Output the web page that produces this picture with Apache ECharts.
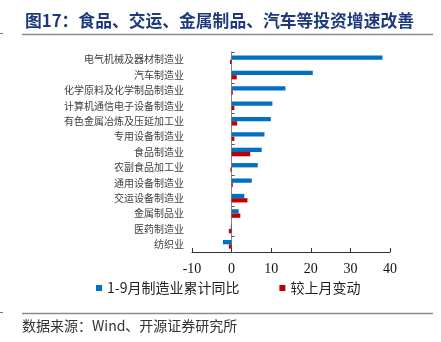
<!DOCTYPE html>
<html>
<head>
<meta charset="utf-8">
<script src="https://cdn.jsdelivr.net/npm/echarts@6/dist/echarts.min.js"></script>
<style>
  html, body { margin: 0; padding: 0; background: #fff; }
  #chart { width: 441px; height: 342px; }
</style>
</head>
<body>
<div id="chart"></div>
<script>
// Industries, top to bottom
const industries = [
  '电气机械及器材制造业',
  '汽车制造业',
  '化学原料及化学制品制造业',
  '计算机通信电子设备制造业',
  '有色金属冶炼及压延加工业',
  '专用设备制造业',
  '食品制造业',
  '农副食品加工业',
  '通用设备制造业',
  '交运设备制造业',
  '金属制品业',
  '医药制造业',
  '纺织业'
];
// 1-9月制造业累计同比 (%)
const ytdGrowth = [38.1, 20.5, 13.6, 10.3, 9.9, 8.3, 7.6, 6.6, 5.1, 3.2, 1.8, -0.2, -2.2];
// 较上月变动 (pct)
const changeVsLastMonth = [-0.4, 1.3, 0.3, 0.7, 1.4, 0.7, 4.7, -0.3, 0.3, 4.0, 2.2, -0.7, -0.7];

const seriesNames = ['1-9月制造业累计同比', '较上月变动'];
const titleText = '图17：食品、交运、金属制品、汽车等投资增速改善';
const sourceText = '数据来源：Wind、开源证券研究所';

const cjk = '"Noto Sans CJK SC", "Noto Sans", sans-serif';
const serif = '"Liberation Serif", "DejaVu Serif", serif';

const chart = echarts.init(document.getElementById('chart'), null, { renderer: 'canvas' });

chart.setOption({
  animation: false,
  backgroundColor: '#ffffff',
  title: {
    text: titleText,
    left: 20,
    top: 7,
    textStyle: { fontFamily: cjk, fontSize: 16.8, fontWeight: 'bold', color: '#1F3A7A' }
  },
  graphic: [
    { type: 'line', shape: { x1: 22, y1: 34.5, x2: 433, y2: 34.5 }, style: { stroke: '#8c8c8c', lineWidth: 1.5 } },
    { type: 'line', shape: { x1: 22, y1: 313.5, x2: 433, y2: 313.5 }, style: { stroke: '#8c8c8c', lineWidth: 1.5 } },
    { type: 'line', shape: { x1: 0, y1: 33.5, x2: 3, y2: 33.5 }, style: { stroke: '#777', lineWidth: 1 } },
    { type: 'line', shape: { x1: 0, y1: 312.5, x2: 3, y2: 312.5 }, style: { stroke: '#777', lineWidth: 1 } },
    {
      type: 'text', left: 22, top: 319,
      style: { text: sourceText, fontFamily: cjk, fontSize: 14, fill: '#333' }
    }
  ],
  legend: {
    data: seriesNames,
    left: 91,
    top: 276,
    itemWidth: 6,
    itemHeight: 6,
    itemGap: 40,
    icon: 'rect',
    textStyle: { fontFamily: cjk, fontSize: 14, color: '#222' }
  },
  grid: { left: 192, right: 51, top: 52, bottom: 90, containLabel: false },
  xAxis: {
    type: 'value',
    min: -10,
    max: 40,
    interval: 10,
    splitLine: { show: false },
    axisLine: { show: true, onZero: false, lineStyle: { color: '#333', width: 1 } },
    axisTick: { show: true, inside: true, length: 4, lineStyle: { color: '#333' } },
    axisLabel: { margin: 10, fontFamily: serif, fontSize: 14, color: '#111' }
  },
  yAxis: [
    {
      type: 'category',
      data: industries,
      inverse: true,
      axisLine: { show: false, onZero: false },
      axisTick: { show: false },
      axisLabel: { margin: 8, fontFamily: cjk, fontSize: 10, color: '#404040' }
    },
    {
      // zero line with band ticks
      type: 'category',
      data: industries,
      inverse: true,
      position: 'left',
      axisLine: { show: true, onZero: true, lineStyle: { color: '#888', width: 1 } },
      axisTick: { show: true, inside: true, length: 3, lineStyle: { color: '#555' } },
      axisLabel: { show: false }
    }
  ],
  series: [
    {
      name: seriesNames[0],
      type: 'bar',
      yAxisIndex: 0,
      data: ytdGrowth,
      barWidth: 4.3,
      barGap: '0%',
      itemStyle: { color: '#0070C0' }
    },
    {
      name: seriesNames[1],
      type: 'bar',
      yAxisIndex: 0,
      data: changeVsLastMonth,
      barWidth: 4.3,
      barGap: '0%',
      itemStyle: { color: '#C00000' }
    }
  ]
});
</script>
</body>
</html>
